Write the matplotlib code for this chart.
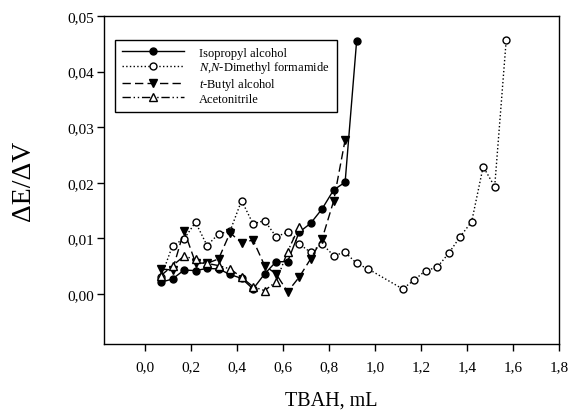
import matplotlib
matplotlib.use("Agg")
import matplotlib.pyplot as plt
from matplotlib.ticker import FuncFormatter

plt.rcParams["font.family"] = ["Liberation Serif", "DejaVu Serif"]
plt.rcParams["mathtext.fontset"] = "custom"
plt.rcParams["mathtext.rm"] = "Liberation Serif"
plt.rcParams["mathtext.it"] = "Liberation Serif:italic"

# TBAH volume (mL) and dE/dV readings
x_ipa = [0.07, 0.12, 0.17, 0.22, 0.27, 0.32, 0.37, 0.42, 0.47, 0.52, 0.57, 0.62,
         0.67, 0.72, 0.77, 0.82, 0.87, 0.92]
y_ipa = [0.0021, 0.0027, 0.0043, 0.0042, 0.0046, 0.0045, 0.0035, 0.0028, 0.0009, 0.0036, 0.0058, 0.0058,
         0.0111, 0.0127, 0.0153, 0.0187, 0.0201, 0.0455]

x_dmf = [0.07, 0.12, 0.17, 0.22, 0.27, 0.32, 0.37, 0.42, 0.47, 0.52, 0.57, 0.62,
         0.67, 0.72, 0.77, 0.82, 0.87, 0.92, 0.97,
         1.12, 1.17, 1.22, 1.27, 1.32, 1.37, 1.42, 1.47, 1.52, 1.57]
y_dmf = [0.0030, 0.0087, 0.0099, 0.0129, 0.0087, 0.0108, 0.0113, 0.0168, 0.0126, 0.0132, 0.0103, 0.0111,
         0.0090, 0.0075, 0.0090, 0.0069, 0.0075, 0.0055, 0.0045,
         0.0009, 0.0025, 0.0042, 0.0048, 0.0073, 0.0103, 0.0130, 0.0229, 0.0193, 0.0456]

x_tba = [0.07, 0.12, 0.17, 0.22, 0.27, 0.32, 0.37, 0.42, 0.47, 0.52, 0.57, 0.62,
         0.67, 0.72, 0.77, 0.82, 0.87]
y_tba = [0.0045, 0.0043, 0.0114, 0.0056, 0.0055, 0.0063, 0.0110, 0.0092, 0.0097, 0.0051, 0.0036, 0.0004,
         0.0030, 0.0063, 0.0099, 0.0167, 0.0277]

x_acn = [0.07, 0.12, 0.17, 0.22, 0.27, 0.32, 0.37, 0.42, 0.47, 0.52, 0.57, 0.62, 0.67]
y_acn = [0.0033, 0.0051, 0.0068, 0.0062, 0.0055, 0.0051, 0.0045, 0.0030, 0.0013, 0.0006, 0.0022, 0.0076, 0.0121]

fig = plt.figure(figsize=(5.7, 4.14), dpi=100)
ax = fig.add_axes([0.1816, 0.1667, 0.7993, 0.7923])

ms = 5
ax.plot(x_ipa, y_ipa, "-", color="black", lw=1, marker="o", ms=ms, mfc="black", mec="black",
        label="Isopropyl alcohol")
ax.plot(x_dmf, y_dmf, ":", color="black", lw=1, marker="o", ms=ms, mfc="white", mec="black",
        label=r"$\it{N}$,$\it{N}$-Dimethyl formamide")
ax.plot(x_tba, y_tba, color="black", lw=1, dashes=(6, 3), marker="v", ms=ms + 1, mfc="black", mec="black",
        label=r"$\it{t}$-Butyl alcohol")
ax.plot(x_acn, y_acn, color="black", lw=1, dashes=(6, 2, 1, 2, 1, 2), marker="^", ms=ms + 1, mfc="white",
        mec="black", label="Acetonitrile")

ax.set_xlim(-0.18, 1.8)
ax.set_ylim(-0.009, 0.05)
ax.set_xticks([0.0, 0.2, 0.4, 0.6, 0.8, 1.0, 1.2, 1.4, 1.6, 1.8])
ax.set_yticks([0.0, 0.01, 0.02, 0.03, 0.04, 0.05])
ax.xaxis.set_major_formatter(FuncFormatter(lambda v, p: f"{v:.1f}".replace(".", ",")))
ax.yaxis.set_major_formatter(FuncFormatter(lambda v, p: f"{v:.2f}".replace(".", ",")))
ax.tick_params(direction="out", length=5, width=1, labelsize=11, top=False, right=False)
ax.tick_params(axis="x", pad=7)
ax.tick_params(axis="y", pad=2)
for s in ax.spines.values():
    s.set_linewidth(1)

ax.set_xlabel("TBAH, mL", fontsize=14.5, labelpad=12)
ax.set_ylabel("ΔE/ΔV", fontsize=20, labelpad=22)

leg = ax.legend(loc="upper left", bbox_to_anchor=(0.025, 0.927), borderaxespad=0, fontsize=9,
                handlelength=5, fancybox=False, edgecolor="black", framealpha=1,
                borderpad=0.55, labelspacing=0.05, handletextpad=1.2)
leg.get_frame().set_linewidth(1)

fig.savefig("out.png", dpi=100)
